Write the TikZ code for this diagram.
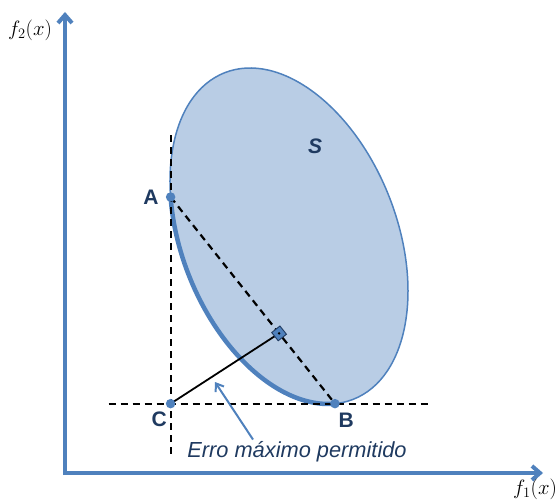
\documentclass[tikz,border=0pt]{standalone}
\usepackage{fontspec}
\setmainfont{Liberation Sans}
\usetikzlibrary{calc,positioning,arrows.meta}
\definecolor{azul}{HTML}{4F81BD}
\definecolor{azulclaro}{HTML}{B9CDE5}
\definecolor{marinho}{HTML}{1F3A60}
\begin{document}
\begin{tikzpicture}[x=1pt, y=1pt,
    Ax/.style={draw=azul, line width=4pt, -{Straight Barb[length=8pt, width=14pt]}},
    T/.style={dash pattern=on 7pt off 5pt, line width=2.2pt},
    P/.style={circle, fill=azul, minimum size=9.5pt, inner sep=0pt},
    Q/.style={rectangle, draw=marinho, fill=azul, line width=0.9pt, minimum size=10.5pt, inner sep=0pt},
    L/.style={text=marinho, inner sep=0pt, font=\fontsize{21}{25}\selectfont\bfseries},
    M/.style={font=\fontsize{21}{25}\selectfont}]

    \useasboundingbox (0,0) rectangle (559,-502);

    % Eixos
    \coordinate (O) at (65,-473);
    \coordinate (Ytop) at (65,-12);
    \coordinate (Xend) at (543,-473);
    \draw[Ax] ([yshift=-2pt]O) -- (Ytop);
    \draw[Ax] ([xshift=-2pt]O) -- (Xend);
    \node[M] (f2) at (30,-30) {$f_2(x)$};
    \node[M] (f1) at (535,-489) {$f_1(x)$};

    % Conjunto S
    \coordinate (c) at (289,-236);
    \draw[fill=azulclaro, draw=azul, line width=1.5pt, rotate around={21.5:(c)}]
          (c) ellipse [x radius=107.6pt, y radius=175.5pt];
    \begin{scope}[shift={(c)}, rotate=21.5]
      \coordinate (A) at (153:107.6pt and 175.5pt);
      \coordinate (B) at (260:107.6pt and 175.5pt);
      \draw[azul, line width=4.5pt, line cap=round]
            (A) arc [start angle=153, end angle=260, x radius=107.6pt, y radius=175.5pt];
    \end{scope}
    \node[L, font=\fontsize{21}{25}\selectfont\bfseries\itshape] (S) at ($(c)+(26,90)$) {S};

    % Linhas auxiliares
    \coordinate (C) at (A |- B);
    \coordinate (Vtop) at ($(A)+(0,62)$);
    \coordinate (Vbot) at ($(C)+(0,-52)$);
    \coordinate (Hl) at ($(C)+(-62,0)$);
    \coordinate (Hr) at ($(B)+(96,0)$);
    \draw[T] (Vtop) -- (Vbot);
    \draw[T] (Hl) -- (Hr);
    \draw[T] (A) -- (B);

    % Distancia de C a AB
    \coordinate (F) at ($(A)!0.66!(B)$);
    \draw[line width=1.8pt] (C) -- (F);
    \node[Q, rotate=38.4] (q) at (F) {};
    \fill (q.center) circle (1.4pt);

    % Pontos
    \node[P] (pA) at (A) {};
    \node[P] (pB) at (B) {};
    \node[P] (pC) at (C) {};
    \node[L, left=7pt of pA] (lA) {A};
    \node[L, below right=6pt and 0pt of pB] (lB) {B};
    \node[L, below left=4pt and 0pt of pC] (lC) {C};

    % Legenda
    \node[text=marinho, inner sep=0pt, font=\fontsize{21.8}{26}\selectfont\itshape] (err) at (297,-452) {Erro máximo permitido};
    \coordinate (eTip) at (215,-382);
    \draw[azul, line width=2pt, -{Straight Barb[length=7pt, width=10pt]}] ([shift={(-44pt,2pt)}]err.north) -- (eTip);
\end{tikzpicture}
\end{document}
